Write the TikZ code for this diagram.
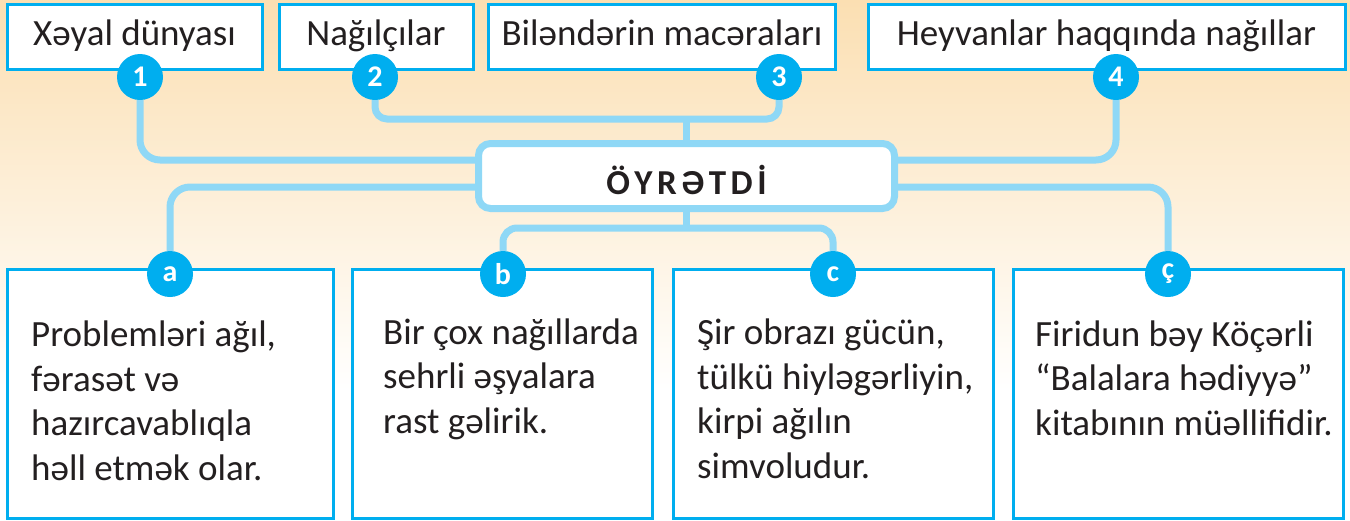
\documentclass[tikz,border=0pt]{standalone}
\usepackage{fontspec}
\setmainfont{Carlito}
\usetikzlibrary{positioning}
\definecolor{cyanbox}{RGB}{0,174,239}
\definecolor{linkblue}{RGB}{143,216,246}
\definecolor{inkgray}{RGB}{35,31,32}
\definecolor{peach}{RGB}{251,223,178}

\begin{document}
\begin{tikzpicture}[x=1pt, y=-1pt,
  topbox/.style={draw=cyanbox, line width=3pt, fill=white, minimum height=65pt,
    text height=27pt, text depth=10pt, inner sep=0pt, text=inkgray,
    font=\fontsize{37}{44}\selectfont},
  infobox/.style={draw=cyanbox, line width=3pt, fill=white, minimum height=249pt, inner sep=0pt},
  infotext/.style={anchor=base west, inner sep=0pt, align=left, text=inkgray,
    font=\fontsize{37}{44.5}\selectfont},
  badge/.style={circle, fill=cyanbox, minimum size=46pt, inner sep=0pt, text=white,
    font=\bfseries\fontsize{30}{30}\selectfont},
  hubbox/.style={draw=linkblue, line width=7pt, fill=white, rounded corners=12pt,
    minimum width=416pt, minimum height=65pt, inner sep=0pt, text height=36pt, text depth=0pt,
    text=inkgray, font=\bfseries\fontsize{35}{35}\selectfont},
  link/.style={draw=linkblue, line width=7pt, rounded corners=20pt}]

  % background
  \useasboundingbox (0,0) rectangle (1350,520);
  \shade[top color=peach, bottom color=white] (0,0) rectangle (1350,390);
  \fill[white] (0,390) rectangle (1350,520);

  % top row
  \node[topbox, minimum width=255pt] (fantasy) at (134.5,36.5) {Xəyal dünyası};
  \node[topbox, minimum width=194pt] (tellers) at (376,36.5)   {Nağılçılar};
  \node[topbox, minimum width=347pt] (heroes)  at (662,36.5)   {Biləndərin macəraları};
  \node[topbox, minimum width=477pt] (animals) at (1106.5,36.5) {Heyvanlar haqqında nağıllar};
  \node[badge] (n1) at (140,77)  {1};
  \node[badge] (n2) at (375,77)  {2};
  \node[badge] (n3) at (779,77)  {3};
  \node[badge] (n4) at (1116,77) {4};

  % centre
  \node[hubbox] (hub) at (686.5,176) {Ö\kern4.5pt Y\kern4.5pt R\kern4.5pt Ə\kern4.5pt T\kern4.5pt D\kern4.5pt İ};
  \coordinate (jtop) at (686.5,119);
  \coordinate (jbot) at (686.5,228);

  % bottom row (texts placed by their last baseline)
  \node[infobox, minimum width=326pt] (boxa) at (170,393.5)  {};
  \node[infobox, minimum width=300pt] (boxb) at (502,393.5)  {};
  \node[infobox, minimum width=320pt] (boxc) at (833,393.5)  {};
  \node[infobox, minimum width=330pt] (boxd) at (1178,393.5) {};
  \node[infotext] (texta) at (31,480)   {Problemləri ağıl,\\fərasət və\\hazırcavablıqla\\həll etmək olar.};
  \node[infotext] (textb) at (383,433)  {Bir çox nağıllarda\\sehrli əşyalara\\rast gəlirik.};
  \node[infotext] (textc) at (697,478)  {Şir obrazı gücün,\\tülkü hiyləgərliyin,\\kirpi ağılın\\simvoludur.};
  \node[infotext] (textd) at (1035,435) {Firidun bəy Köçərli\\“Balalara hədiyyə”\\kitabının müəllifidir.};
  \node[badge] (na) at (170,274)  {a};
  \node[badge] (nb) at (503,274)  {b};
  \node[badge] (nc) at (833,274)  {c};
  \node[badge] (nd) at (1168,274) {ç};

  % connectors
  \draw[link] (n1) |- ([yshift=16pt]hub.west);
  \draw[link] (n4) |- ([yshift=16pt]hub.east);
  \draw[link, rounded corners=12pt] (n2) |- (jtop) -| (n3);
  \draw[link] (jtop) -- (hub);
  \draw[link] ([yshift=-11pt]hub.west) -| (na);
  \draw[link] ([yshift=-11pt]hub.east) -| (nd);
  \draw[link] (hub) -- (jbot);
  \draw[link, rounded corners=14pt] (nb) |- (jbot) -| (nc);
\end{tikzpicture}
\end{document}
